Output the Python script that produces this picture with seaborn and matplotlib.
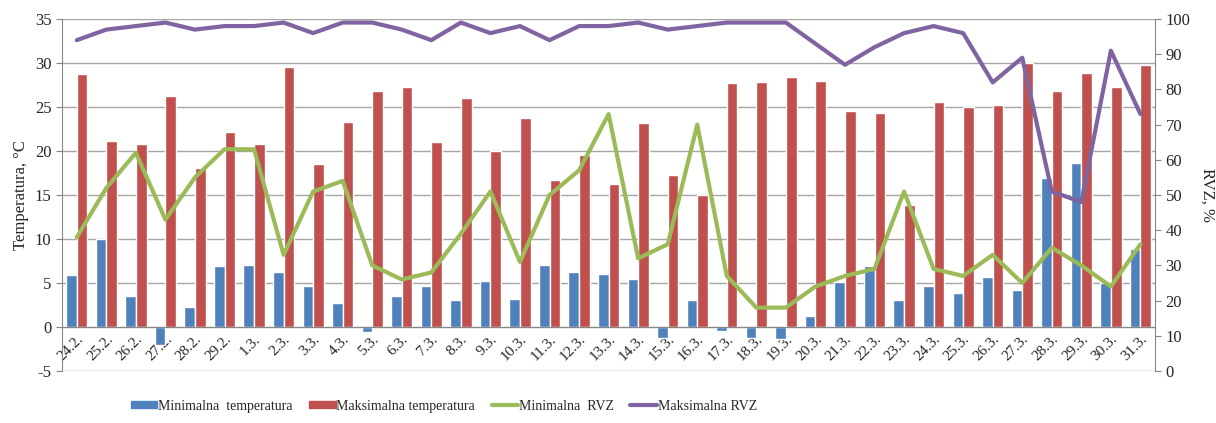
import numpy as np
import pandas as pd
import seaborn as sns
import matplotlib.pyplot as plt
from matplotlib.patches import Patch
from matplotlib.lines import Line2D

datumi = ['24.2.', '25.2.', '26.2.', '27.2.', '28.2.', '29.2.'] + [f'{d}.3.' for d in range(1, 32)]

min_temp = [5.9, 10.0, 3.5, -2.0, 2.3, 6.9, 7.1, 6.3, 4.7, 2.7, -0.6, 3.5, 4.7, 3.1, 5.2, 3.2, 7.1, 6.3, 6.0,
            5.4, -1.2, 3.1, -0.5, -1.3, -1.4, 1.3, 5.1, 6.9, 3.1, 4.7, 3.9, 5.7, 4.2, 16.9, 18.6, 5.0, 8.9]
max_temp = [28.8, 21.1, 20.8, 26.3, 18.1, 22.2, 20.8, 29.6, 18.5, 23.3, 26.8, 27.3, 21.0, 26.0, 20.0, 23.8, 16.7,
            19.5, 16.2, 23.2, 17.3, 15.0, 27.7, 27.9, 28.4, 28.0, 24.6, 24.3, 13.9, 25.6, 25.0, 25.2, 30.0, 26.8,
            28.9, 27.3, 29.8]
min_rvz = [38, 52, 62, 43, 55, 63, 63, 33, 51, 54, 30, 26, 28, 39, 51, 31, 50, 57, 73, 32, 36, 70, 27, 18, 18,
           24, 27, 29, 51, 29, 27, 33, 25, 35, 30, 24, 36]
max_rvz = [94, 97, 98, 99, 97, 98, 98, 99, 96, 99, 99, 97, 94, 99, 96, 98, 94, 98, 98, 99, 97, 98, 99, 99, 99,
           93, 87, 92, 96, 98, 96, 82, 89, 51, 48, 91, 73]

plava = '#4F81BD'
crvena = '#C0504D'
zelena = '#9BBB59'
ljubicasta = '#8064A2'

sns.set_style('white')
plt.rcParams['font.family'] = ['Liberation Serif', 'DejaVu Serif']
plt.rcParams['axes.unicode_minus'] = False

# podaci u dugom formatu za barplot
df = pd.DataFrame({'datum': datumi * 2,
                   'temp': min_temp + max_temp,
                   'serija': ['Minimalna  temperatura'] * len(datumi) + ['Maksimalna temperatura'] * len(datumi)})

fig = plt.figure(figsize=(12.16, 4.23), dpi=100)
ax = fig.add_axes([0.051, 0.123, 0.899, 0.832])

sns.barplot(data=df, x='datum', y='temp', hue='serija', palette=[plava, crvena],
            width=0.72, dodge=True, ax=ax, legend=False, saturation=1)
ax.set_ylim(-5, 35)
ax.set_yticks(range(-5, 36, 5))
ax.set_xlim(-0.5, len(datumi) - 0.5)
ax.grid(axis='y', color='#a6a6a6', lw=1)
ax.set_axisbelow(True)
ax.set_xlabel('')
ax.set_ylabel('Temperatura, °C', fontsize=12)

for s in ['top', 'right']:
    ax.spines[s].set_visible(False)
ax.spines['left'].set_color('#868686')
ax.spines['bottom'].set_position(('data', 0))
ax.spines['bottom'].set_color('#868686')

ax.set_xticks(range(len(datumi)))
ax.set_xticklabels(datumi, rotation=45, ha='right', rotation_mode='anchor', fontsize=11)
ax.tick_params(axis='x', length=0, pad=4)
ax.set_xticks(np.arange(len(datumi) + 1) - 0.5, minor=True)
ax.tick_params(axis='x', which='minor', length=5, color='#868686', direction='out')
ax.tick_params(axis='y', labelsize=12, length=4, color='#868686', direction='out', left=True)

ax2 = ax.twinx()
x = np.arange(len(datumi))
sns.lineplot(x=x, y=min_rvz, color=zelena, lw=3, ax=ax2)
sns.lineplot(x=x, y=max_rvz, color=ljubicasta, lw=3, ax=ax2)
ax2.set_ylim(0, 100)
ax2.set_yticks(range(0, 101, 10))
ax2.set_ylabel('RVZ, %', fontsize=12, rotation=270, labelpad=18)
ax2.tick_params(axis='y', labelsize=12, length=4, color='#868686', direction='out', right=True)
for s in ['top', 'left', 'bottom']:
    ax2.spines[s].set_visible(False)
ax2.spines['right'].set_color('#868686')
ax2.grid(False)

handles = [Patch(color=plava), Patch(color=crvena),
           Line2D([], [], color=zelena, lw=3), Line2D([], [], color=ljubicasta, lw=3)]
labels = ['Minimalna  temperatura', 'Maksimalna temperatura', 'Minimalna  RVZ', 'Maksimalna RVZ']
fig.legend(handles, labels, loc='lower center', bbox_to_anchor=(0.365, -0.005), ncol=4, frameon=False,
           fontsize=10, handlelength=1.9, handleheight=0.45, columnspacing=1.2, handletextpad=0.05)

plt.savefig('out.png', dpi=100)
